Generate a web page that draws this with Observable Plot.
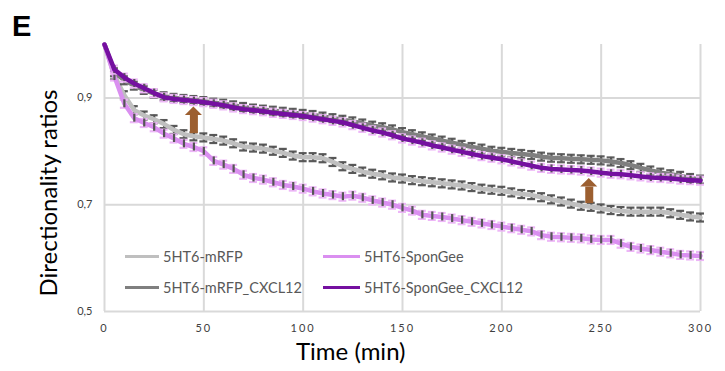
<!DOCTYPE html>
<html><head><meta charset="utf-8">
<script src="https://cdn.jsdelivr.net/npm/d3@7"></script>
<script src="https://cdn.jsdelivr.net/npm/@observablehq/plot@0.6"></script>
<style>
body{margin:0;background:#fff;}
#wrap{position:relative;width:725px;height:371px;font-family:Lato,"Open Sans",sans-serif;overflow:hidden;}
#wrap svg{position:absolute;left:0;top:0;}
.lab{position:absolute;white-space:nowrap;line-height:1;}
#panel{left:12px;top:10px;font:bold 29px "Liberation Sans",Arial,sans-serif;color:#000;}
#xt{left:296px;top:339px;font-size:24px;color:#000;}
#yt{left:48px;top:193px;font-size:24px;color:#000;transform:translate(-50%,-50%) rotate(-90deg);}
.leg{position:absolute;display:flex;align-items:center;font-size:14.5px;color:#595959;}
.leg span.sw{display:inline-block;height:3px;margin-right:4px;}
g[aria-label="x-axis tick label"] text{letter-spacing:2px;}
</style></head><body>
<div id="wrap"></div>
<script>
const times = [0,5,10,15,20,25,30,35,40,45,50,55,60,65,70,75,80,85,90,95,100,105,110,115,120,125,130,135,140,145,150,155,160,165,170,175,180,185,190,195,200,205,210,215,220,225,230,235,240,245,250,255,260,265,270,275,280,285,290,295,300];

const mRFP = [1.000,0.942,0.905,0.877,0.867,0.860,0.851,0.840,0.832,0.828,0.826,0.823,0.820,0.815,0.809,0.807,0.805,0.801,0.797,0.792,0.789,0.789,0.787,0.780,0.772,0.767,0.762,0.758,0.755,0.751,0.749,0.746,0.744,0.742,0.740,0.738,0.736,0.733,0.730,0.728,0.726,0.723,0.720,0.718,0.714,0.710,0.706,0.702,0.698,0.696,0.693,0.690,0.688,0.687,0.687,0.687,0.687,0.684,0.681,0.678,0.676];

const mRFP_CXCL12 = [1.000,0.948,0.933,0.923,0.915,0.908,0.903,0.900,0.898,0.896,0.894,0.891,0.889,0.886,0.883,0.880,0.878,0.876,0.874,0.872,0.870,0.868,0.865,0.862,0.859,0.856,0.852,0.848,0.845,0.841,0.836,0.832,0.828,0.824,0.820,0.816,0.812,0.808,0.805,0.801,0.799,0.797,0.795,0.793,0.790,0.788,0.787,0.786,0.785,0.784,0.783,0.781,0.778,0.774,0.769,0.764,0.760,0.757,0.754,0.750,0.747];

const sponGee = [1.000,0.940,0.889,0.862,0.853,0.845,0.833,0.824,0.814,0.808,0.800,0.782,0.775,0.767,0.756,0.750,0.747,0.742,0.737,0.734,0.730,0.725,0.721,0.718,0.715,0.717,0.713,0.708,0.704,0.700,0.694,0.689,0.681,0.679,0.677,0.674,0.671,0.668,0.665,0.662,0.659,0.656,0.653,0.650,0.643,0.640,0.639,0.638,0.637,0.635,0.634,0.634,0.627,0.621,0.618,0.615,0.612,0.609,0.606,0.605,0.604];

const sponGee_CXCL12 = [1.000,0.953,0.938,0.927,0.918,0.909,0.901,0.898,0.896,0.894,0.892,0.889,0.886,0.882,0.879,0.877,0.875,0.872,0.870,0.868,0.866,0.863,0.860,0.857,0.854,0.849,0.844,0.839,0.835,0.830,0.824,0.820,0.816,0.811,0.807,0.803,0.799,0.795,0.791,0.788,0.785,0.781,0.777,0.773,0.769,0.767,0.766,0.765,0.764,0.762,0.760,0.758,0.757,0.755,0.753,0.751,0.750,0.749,0.747,0.746,0.745];

const seriesNames = ["5HT6-mRFP","5HT6-mRFP_CXCL12","5HT6-SponGee","5HT6-SponGee_CXCL12"];
const seriesValues = [mRFP, mRFP_CXCL12, sponGee, sponGee_CXCL12];
const seriesErr = [0.0075, 0.0075, 0.0075, 0.0075];
const seriesColors = ["#BFBFBF","#7F7F7F","#DA8FF0","#7510A0"];
const capColors = ["#595959","#5F5F5F","#EDB6F7","#EDB6F7"];
const stemOnTop = [false, false, true, false];
const xTicks = [0,50,100,150,200,250,300];
const yTicks = [0.5,0.7,0.9];
// arrows: time, shaft base, head base, tip
const arrowT = [45, 244];
const arrowBase = [0.833, 0.702];
const arrowNeck = [0.867, 0.733];
const arrowTip = [0.883, 0.749];

const series = seriesNames.map((name,i)=>({
  name, color: seriesColors[i], cap: capColors[i], top: stemOnTop[i],
  data: times.map((t,j)=>({t, v: seriesValues[i][j], e: seriesErr[i]}))
}));

const arrows = arrowT.map((t,i)=>({t, base:arrowBase[i], neck:arrowNeck[i], tip:arrowTip[i]}));
const heads = arrows.flatMap(a=>[
  {id:a.t, x:a.t-4.3, y1:a.neck, y2:a.neck},
  {id:a.t, x:a.t, y1:a.neck, y2:a.tip},
  {id:a.t, x:a.t+4.3, y1:a.neck, y2:a.neck}
]);

const capMarks = s => [
  Plot.ruleY(s.data.slice(1), {y:d=>d.v+d.e, x1:d=>d.t-2, x2:d=>d.t+2, stroke:s.cap, strokeWidth:2.2}),
  Plot.ruleY(s.data.slice(1), {y:d=>d.v-d.e, x1:d=>d.t-2, x2:d=>d.t+2, stroke:s.cap, strokeWidth:2.2})
];
const stemMark = s => Plot.ruleX(s.data.slice(1), {x:"t", y1:d=>d.v-d.e, y2:d=>d.v+d.e, stroke:"#555555", strokeWidth:2.2});

const marks = [];
series.forEach(s=>{
  marks.push(...capMarks(s));
  if (!s.top) marks.push(stemMark(s));
  marks.push(Plot.line(s.data, {x:"t", y:"v", stroke:s.color, strokeWidth:4.5}));
  if (s.top) marks.push(stemMark(s));
});

const chart = Plot.plot({
  width:725, height:371,
  marginLeft:104, marginRight:25, marginTop:44, marginBottom:60,
  style:{fontFamily:"Lato, 'Open Sans', sans-serif", fontSize:"11px", color:"#404040", background:"transparent"},
  x:{domain:[0,300], label:null},
  y:{domain:[0.5,1.0], label:null},
  marks:[
    Plot.gridX(xTicks, {stroke:"#D9D9D9", strokeOpacity:1, strokeWidth:2}),
    Plot.gridY(yTicks, {stroke:"#D9D9D9", strokeOpacity:1, strokeWidth:2}),
    Plot.axisX(xTicks, {tickSize:0, tickPadding:13, tickFormat:d=>String(d), label:null}),
    Plot.axisY(yTicks, {tickSize:0, tickPadding:12, tickFormat:d=>d.toFixed(1).replace(".", ","), label:null}),
    ...marks,
    Plot.ruleX(arrows, {x:"t", y1:"base", y2:"neck", stroke:"#9C5F30", strokeWidth:8}),
    Plot.areaY(heads, {x:"x", y1:"y1", y2:"y2", z:"id", fill:"#9C5F30"})
  ]
});

const wrap = document.getElementById("wrap");
wrap.appendChild(chart);

function addLab(id, text){
  const d = document.createElement("div");
  d.className = "lab"; d.id = id; d.textContent = text; wrap.appendChild(d);
}
addLab("panel","E");
addLab("xt","Time (min)");
addLab("yt","Directionality ratios");

const legPos = [[125,256],[125,287],[323,256],[323,287]];
const legSw = [34,34,37,37];
series.forEach((s,i)=>{
  const d = document.createElement("div");
  d.className = "leg";
  d.style.left = legPos[i][0]+"px";
  d.style.top = (legPos[i][1]-10)+"px";
  d.style.height = "20px";
  const sw = document.createElement("span");
  sw.className = "sw"; sw.style.width = legSw[i]+"px"; sw.style.background = s.color;
  d.appendChild(sw);
  const tx = document.createElement("span"); tx.textContent = s.name;
  d.appendChild(tx);
  wrap.appendChild(d);
});
</script>
</body></html>
